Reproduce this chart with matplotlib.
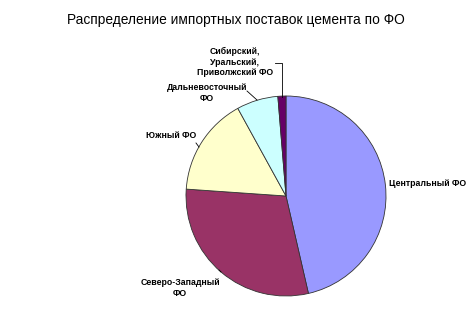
import matplotlib
matplotlib.use("Agg")
import matplotlib.pyplot as plt

categories = ["Центральный ФО", "Северо-Западный\nФО", "Южный ФО",
              "Дальневосточный\nФО", "Сибирский,\nУральский,\nПриволжский ФО"]
values = [46.4, 29.7, 15.9, 6.7, 1.3]
colors = ["#9999FF", "#993366", "#FFFFCC", "#CCFFFF", "#660066"]

plt.rcParams['font.family'] = ['Liberation Sans', 'DejaVu Sans']

W, H = 472, 329
fig = plt.figure(figsize=(W / 100, H / 100), dpi=100)
fig.patch.set_facecolor("white")

cx, cy, r = 286, 196, 100
ax = fig.add_axes([(cx - r) / W, (H - cy - r) / H, 2 * r / W, 2 * r / H])
ax.pie(values, colors=colors, startangle=90, counterclock=False,
       wedgeprops=dict(edgecolor="#333333", linewidth=0.6))
ax.set_xlim(-1, 1)
ax.set_ylim(-1, 1)
ax.set_aspect("auto")
ax.axis("off")

def px(x, y):
    return ((x - cx) / r, (cy - y) / r)

lab_pos = [(389, 183, "left"), (180, 288, "center"), (171, 135, "center"),
           (207, 93, "center"), (235, 62, "center")]
for lab, (x, y, ha) in zip(categories, lab_pos):
    tx, ty = px(x, y)
    ax.text(tx, ty, lab, ha=ha, va="center", fontsize=6.3, fontweight="bold",
            linespacing=1.2, clip_on=False)

# leader lines
for pts in [[(275, 63), (282, 63), (282, 97)], [(247, 91), (257, 100)],
            [(196, 143), (199, 147)], [(219, 270), (221, 272)]]:
    xs, ys = zip(*[px(a, b) for a, b in pts])
    ax.plot(xs, ys, color="black", lw=0.6, clip_on=False)

fig.text(236 / W, 1 - 20 / H, "Распределение импортных поставок цемента по ФО",
         ha="center", va="center", fontsize=9.9)

fig.savefig("out.png", dpi=100)
